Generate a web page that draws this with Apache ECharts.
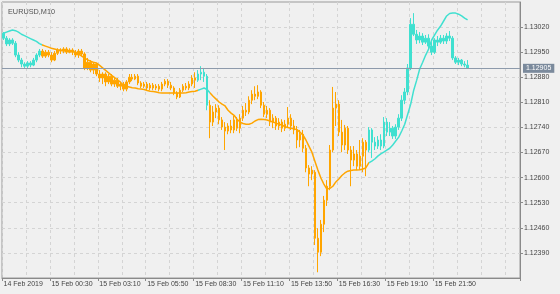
<!DOCTYPE html>
<html><head><meta charset="utf-8">
<script src="https://cdn.jsdelivr.net/npm/echarts@6/dist/echarts.min.js"></script>
<style>html,body{margin:0;padding:0;background:#f0f0f0}#c{width:560px;height:294px}</style>
</head><body><div id="c"></div><script>
const chartTitle = 'EURUSD,M10';
const pointSize = 0.00001;
// candles, in points (1 point = 0.00001): [open, close, low, high]
const candles = [
[113003,112989,112984,113006],[112989,112973,112967,112995],[112973,112984,112967,112989],[112984,112975,112970,112989],
[112975,112942,112936,112981],[112942,112928,112922,112950],[112928,112917,112908,112934],[112917,112911,112906,112922],
[112911,112920,112906,112925],[112920,112914,112908,112925],[112914,112928,112911,112934],[112928,112942,112922,112947],
[112942,112953,112936,112959],[112953,112939,112934,112959],[112939,112950,112934,112956],[112950,112942,112936,112956],
[112942,112928,112922,112950],[112928,112947,112925,112953],[112947,112956,112942,112961],[112956,112953,112945,112961],
[112953,112959,112947,112964],[112959,112950,112945,112964],[112950,112956,112947,112961],[112956,112950,112942,112961],
[112950,112942,112936,112956],[112942,112953,112934,112959],[112953,112945,112939,112959],[112945,112906,112900,112950],
[112906,112922,112900,112934],[112922,112900,112894,112928],[112900,112917,112889,112922],[112917,112889,112883,112920],
[112889,112878,112867,112900],[112878,112889,112861,112894],[112889,112867,112855,112894],[112867,112883,112861,112889],
[112883,112861,112855,112889],[112861,112872,112853,112880],[112872,112855,112850,112878],[112855,112861,112844,112867],
[112861,112847,112841,112867],[112847,112867,112841,112872],[112867,112880,112861,112889],[112880,112875,112869,112889],
[112875,112883,112872,112889],[112883,112864,112858,112889],[112864,112855,112850,112869],[112855,112861,112850,112867],
[112861,112850,112844,112867],[112850,112858,112844,112864],[112858,112850,112844,112864],[112850,112855,112844,112861],
[112855,112847,112841,112861],[112847,112861,112841,112867],[112861,112869,112855,112875],[112869,112858,112850,112875],
[112858,112850,112844,112867],[112850,112836,112830,112855],[112836,112825,112819,112841],[112825,112844,112822,112850],
[112844,112855,112839,112861],[112855,112850,112844,112864],[112850,112861,112844,112869],[112861,112878,112855,112886],
[112878,112872,112850,112894],[112872,112889,112867,112900],[112889,112894,112872,112911],[112894,112883,112867,112906],
[112883,112802,112788,112889],[112802,112755,112710,112816],[112755,112783,112744,112800],[112783,112794,112766,112805],
[112794,112761,112749,112802],[112761,112741,112733,112769],[112741,112730,112677,112755],[112730,112744,112721,112752],
[112744,112733,112724,112761],[112733,112761,112724,112772],[112761,112738,112730,112769],[112738,112766,112724,112777],
[112766,112788,112758,112800],[112788,112783,112772,112808],[112783,112816,112777,112827],[112816,112833,112805,112844],
[112833,112827,112816,112855],[112827,112839,112819,112858],[112839,112802,112794,112844],[112802,112777,112769,112811],
[112777,112788,112766,112800],[112788,112755,112744,112794],[112755,112766,112738,112777],[112766,112744,112733,112772],
[112744,112755,112733,112766],[112755,112738,112727,112763],[112738,112749,112730,112761],[112749,112766,112741,112797],
[112766,112744,112733,112777],[112744,112733,112721,112761],[112733,112705,112682,112744],[112705,112721,112685,112733],
[112721,112682,112671,112733],[112682,112627,112615,112691],[112627,112610,112576,112635],[112610,112621,112593,112632],
[112615,112431,112412,112621],[112431,112392,112336,112459],[112392,112470,112381,112482],[112470,112537,112448,112549],
[112537,112576,112521,112593],[112576,112677,112565,112691],[112677,112794,112671,112853],[112794,112805,112744,112839],
[112805,112727,112716,112816],[112727,112691,112671,112761],[112691,112738,112677,112747],[112738,112677,112666,112744],
[112677,112649,112576,112688],[112649,112666,112632,112688],[112666,112632,112621,112677],[112632,112660,112621,112705],
[112660,112699,112615,112710],[112699,112677,112604,112705],[112677,112733,112671,112741],[112733,112699,112655,112738],
[112699,112688,112677,112713],[112688,112705,112680,112716],[112705,112688,112677,112721],[112688,112755,112682,112769],
[112755,112727,112716,112766],[112727,112738,112716,112755],[112738,112716,112708,112744],[112716,112741,112708,112749],
[112741,112766,112733,112777],[112766,112816,112758,112830],[112816,112839,112805,112850],[112839,112906,112830,112917],
[112906,113028,112900,113045],[113028,113000,112995,113059],[113000,112984,112973,113012],[112984,112995,112975,113006],
[112995,112978,112970,113003],[112978,112989,112973,112998],[112989,112967,112956,113000],[112967,112950,112942,112978],
[112950,112984,112945,112989],[112984,112978,112967,112995],[112978,112989,112973,112998],[112989,112981,112973,112998],
[112981,112995,112973,113003],[112995,112989,112981,113009],[112989,112934,112928,112995],[112934,112922,112917,112939],
[112922,112928,112914,112934],[112928,112917,112911,112931],[112917,112914,112908,112925],[112914,112905,112903,112928]
];
// moving average, in points
const maValues = [
113003,113006,113009,113012,113010,113006,113000,112996,112992,112988,112984,112980,112974,
112970,112967,112964,112961,112959,112957,112956,112954,112953,112952,112952,112950,112946,112940,112934,112929,
112925,112922,112920,112914,112907,112900,112893,112886,112880,112873,112867,112858,112855,112853,112851,112850,
112848,112847,112846,112843,112841,112840,112839,112837,112836,112836,112836,112836,112836,112836,112836,112836,
112837,112839,112840,112841,112844,112847,112850,112846,112836,112827,112819,112811,112805,112800,112788,112780,
112774,112763,112755,112751,112749,112749,112752,112758,112762,112763,112762,112761,112758,112755,112752,112749,
112747,112742,112740,112738,112736,112734,112727,112719,112705,112688,112671,112646,112621,112599,112582,112568,
112570,112576,112588,112596,112606,112613,112618,112620,112621,112621,112622,112624,112627,112641,112646,112652,
112660,112666,112671,112677,112682,112691,112702,112713,112730,112749,112777,112805,112844,112872,112903,112922,
112942,112959,112984,112998,113012,113023,113037,113051,113058,113059,113059,113056,113051,113045,113040
];
// trend runs [first bar, last bar, trend]
const trendRuns = [[0,12,'up'],[13,64,'down'],[65,68,'up'],[69,121,'down'],[122,155,'up']];
const trendColors = {up:'#40e0d0', down:'#ffa500'};
const xTickLabels = ['14 Feb 2019','15 Feb 00:30','15 Feb 03:10','15 Feb 05:50','15 Feb 08:30','15 Feb 11:10','15 Feb 13:50','15 Feb 16:30','15 Feb 19:10','15 Feb 21:50'];
const xLabelStep = 16, xGridStep = 8, xSlots = 173;
const yTicks = [1.12390,1.12460,1.12530,1.12600,1.12670,1.12740,1.12810,1.12880,1.12950,1.13020];
const yMin = 1.12320, yMax = 1.13090;
const lastPrice = 1.12905;

const FONT = 'Liberation Sans, Arial, sans-serif';
const toPrice = v => +(v * pointSize).toFixed(5);
function trendOf(i){ for (const r of trendRuns) if (i >= r[0] && i <= r[1]) return r[2]; return 'down'; }
const categories = Array.from({length: xSlots}, (_, i) => String(i));
const candleData = candles.map((c, i) => {
  const col = trendColors[trendOf(i)];
  return {value: c.map(toPrice), itemStyle: {color: col, color0: col, borderColor: col, borderColor0: col}};
});
const maData = maValues.map(toPrice);
const pieces = trendRuns.map((r, k) => ({
  gte: k === 0 ? -1 : r[0] - 0.5,
  lt: k === trendRuns.length - 1 ? xSlots + 1 : r[1] + 0.5,
  color: trendColors[r[2]]
}));
const isLabelIdx = idx => idx % xLabelStep === 0 && idx / xLabelStep < xTickLabels.length;

const chart = echarts.init(document.getElementById('c'), null, {renderer: 'canvas'});
chart.setOption({
  animation: false,
  backgroundColor: '#f0f0f0',
  title: {text: chartTitle, left: 3, top: 3, textStyle: {fontSize: 7.3, fontWeight: 'normal', color: '#555', fontFamily: FONT}},
  grid: {left: 2, right: 40, top: 2, bottom: 16, show: true, borderColor: '#9a9a9a', borderWidth: 1, backgroundColor: '#f0f0f0'},
  xAxis: {
    type: 'category', data: categories, boundaryGap: true,
    axisLine: {show: true, lineStyle: {color: '#8a8a8a', width: 1}},
    axisTick: {show: true, length: 3, interval: (idx) => isLabelIdx(idx), lineStyle: {color: '#8a8a8a'}},
    axisLabel: {show: true, interval: (idx) => isLabelIdx(idx), formatter: (v, idx) => xTickLabels[idx / xLabelStep] || '',
      align: 'left', fontSize: 7, color: '#444', fontFamily: FONT, margin: 3},
    splitLine: {show: true, interval: (idx) => idx % xGridStep === 0, lineStyle: {color: '#d4d4d4', type: [3, 3], width: 1}}
  },
  yAxis: {
    type: 'value', position: 'right', min: yMin, max: yMax, scale: true,
    axisLine: {show: true, lineStyle: {color: '#8a8a8a', width: 1}},
    axisTick: {show: true, length: 3, customValues: yTicks, lineStyle: {color: '#8a8a8a'}},
    axisLabel: {show: true, customValues: yTicks, formatter: v => v.toFixed(5), fontSize: 7, color: '#444', fontFamily: FONT, margin: 4},
    splitLine: {show: true, lineStyle: {color: '#d4d4d4', type: [3, 3], width: 1}}
  },
  visualMap: {show: false, type: 'piecewise', dimension: 0, seriesIndex: 1, pieces: pieces},
  series: [
    {
      type: 'candlestick', data: candleData, barWidth: 2,
      itemStyle: {borderWidth: 1}
    },
    {
      type: 'line', data: maData, showSymbol: false, smooth: false,
      lineStyle: {width: 1.5},
      markLine: {
        silent: true, symbol: ['none', 'none'], precision: 5,
        lineStyle: {color: '#8d9aab', type: 'solid', width: 1},
        label: {show: true, position: 'end', formatter: () => lastPrice.toFixed(5), color: '#fff',
          backgroundColor: '#7b8a9c', padding: [1, 3, 1, 3], fontSize: 7, fontFamily: FONT, distance: 3},
        data: [{yAxis: lastPrice}]
      }
    }
  ]
});
</script></body></html>
